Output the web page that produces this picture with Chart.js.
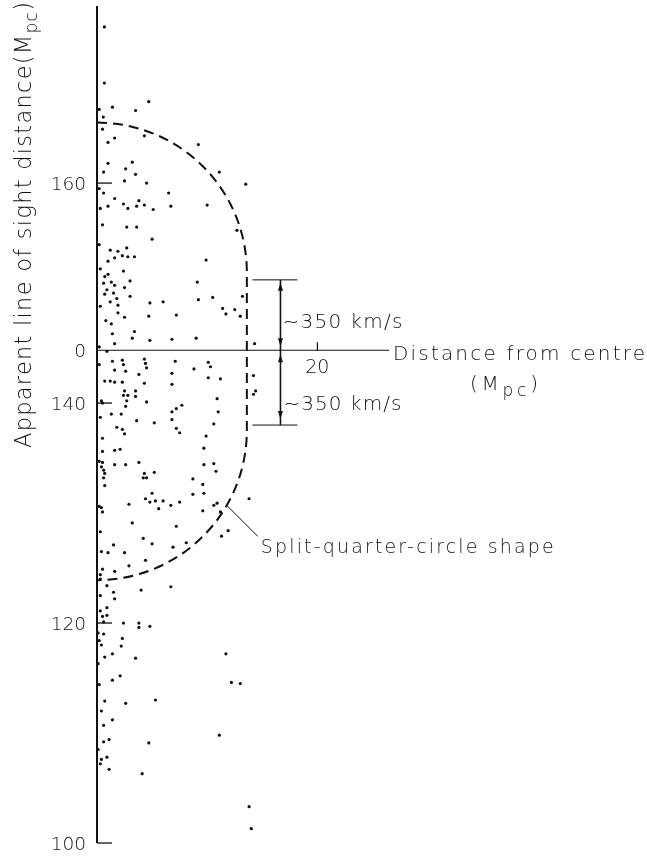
<!DOCTYPE html>
<html>
<head>
<meta charset="utf-8">
<script src="https://cdn.jsdelivr.net/npm/chart.js@4.4.1/dist/chart.umd.min.js"></script>
<style>
  html, body { margin: 0; padding: 0; background: #fff; }
  canvas { display: block; }
</style>
</head>
<body>
<canvas id="chart" width="647" height="856"></canvas>
<script>
// Galaxy positions: [distance from centre (Mpc), apparent line-of-sight distance (Mpc)]
const galaxies = [
  [0.67,174.2],[0.67,169.1],[1.4,166.9],[4.7,167.4],[3.5,166.6],[0.57,166.0],[0.2,166.7],[0.5,164.9],
  [1.6,164.1],[1.0,163.7],[4.3,164.3],[9.2,163.5],[1.0,161.8],[3.2,161.9],[2.6,161.3],[0.6,161.0],
  [3.5,160.8],[2.5,160.2],[4.5,160.0],[11.1,161.0],[13.5,159.9],[6.5,159.1],[0.2,159.5],
  [0.6,159.1],[1.6,158.6],[1.0,157.9],[2.4,158.1],[2.8,157.7],[3.6,157.9],[3.8,158.4],[4.3,158.0],
  [5.1,157.6],[6.7,157.9],[10.0,158.0],[0.3,157.7],[0.5,156.2],[2.7,156.0],[3.6,156.0],[5.0,154.9],
  [12.7,155.7],[0.2,154.4],[1.2,153.9],[1.9,153.8],[1.6,153.2],[1.0,152.9],[2.7,154.1],[2.3,153.4],
  [2.8,153.3],[3.4,153.3],[9.9,153.0],[0.3,152.2],[2.4,152.0],[0.7,151.5],[1.0,151.7],[0.6,150.9],
  [1.3,151.0],[1.6,150.7],[3.0,151.1],[2.5,150.5],[3.0,149.7],[9.1,151.0],[0.9,150.3],[0.7,149.9],
  [1.5,150.0],[1.8,149.5],[1.2,149.2],[4.8,149.1],[6.0,149.2],[9.2,149.4],[10.5,149.6],[13.2,149.7],
  [1.9,148.9],[0.3,148.8],[11.4,148.6],[11.7,148.1],[12.5,148.5],[13.0,147.9],[1.9,148.2],[2.5,147.8],
  [4.7,147.9],[7.2,148.0],[0.8,147.5],[1.3,147.2],[3.4,146.5],[1.4,146.3],[3.2,145.9],[4.8,145.7],
  [6.8,145.8],[9.0,145.9],[1.6,145.4],[14.3,145.4],[0.2,145.1],
  [0.9,144.7],[1.4,143.8],[2.3,143.9],[2.4,143.5],[4.3,144.0],[4.4,143.6],[4.5,143.2],[7.1,143.8],
  [10.1,143.7],[10.3,143.3],[8.8,143.1],[0.2,143.5],[1.6,143.0],[2.6,142.9],[3.8,142.6],[6.8,142.7],
  [10.1,142.3],[11.2,142.2],[0.7,142.0],[1.2,142.0],[1.6,141.9],[2.3,141.9],[4.3,141.8],[6.8,141.7],
  [2.5,141.1],[3.5,141.1],[2.4,140.7],[2.8,140.7],[3.5,140.6],[2.7,140.2],[4.5,140.1],[10.9,140.4],
  [0.4,140.2],[0.5,140.0],[2.6,139.7],[7.7,139.8],[7.2,139.5],[6.8,139.2],[11.0,139.2],[1.3,139.0],
  [2.2,139.0],[0.3,138.7],[3.6,138.4],[5.2,138.2],[6.8,138.5],[10.6,138.1],[1.8,137.8],[2.3,137.6],
  [2.5,137.2],[7.2,137.7],[7.5,137.3],[9.9,137.0],[0.5,136.8],[9.7,135.9],[0.5,135.6],[1.6,135.7],
  [2.1,135.8],[0.2,134.7],[0.5,134.6],[0.4,134.2],[0.6,133.9],[0.7,133.6],[0.6,133.2],[0.7,132.5],
  [1.6,134.4],[2.6,134.4],[3.8,134.6],[9.7,134.4],[10.6,134.5],[10.8,133.8],[4.3,133.6],[4.5,133.2],
  [4.2,133.2],[5.2,133.7],[8.7,133.1],[9.6,132.6],[5.0,131.8],[8.7,131.7],[9.7,131.8],[4.4,131.3],
  [4.8,131.0],[5.3,131.1],[6.0,131.1],[7.5,131.0],[6.7,130.7],[5.6,130.4],[2.9,130.8],[0.2,130.6],
  [0.4,130.5],[0.5,130.1],[10.6,130.7],[10.9,130.9],[9.6,130.2],[11.2,130.1],[13.8,131.3],[3.2,129.1],
  [7.2,128.8],[14.2,142.5],[14.4,141.1],[14.2,140.8],
  [11.9,128.4],[11.3,127.9],[0.3,128.3],[0.4,126.5],[1.0,126.4],[1.5,127.1],[2.5,126.4],[4.2,127.7],
  [5.0,127.2],[6.9,126.9],[8.1,127.3],[4.4,125.7],[2.9,125.2],[1.6,124.7],[0.5,124.9],[0.3,124.4],
  [0.3,124.0],[0.9,123.4],[4.0,123.0],[6.7,123.3],[1.5,122.8],[1.6,122.2],[0.3,122.5],[0.9,121.4],
  [0.3,121.1],[0.9,120.7],[0.5,120.6],[0.6,120.1],[2.4,120.0],[3.8,120.0],[3.8,119.6],[4.8,119.7],
  [0.1,119.1],[0.6,119.0],[0.2,118.4],[2.3,118.6],[0.4,118.0],[2.2,117.9],[1.4,117.2],[0.7,116.9],
  [3.5,116.8],[11.7,117.2],[0.1,116.3],[2.1,115.2],[1.4,114.8],[0.2,114.4],[12.2,114.6],[13.0,114.5],
  [0.7,112.9],[2.6,112.7],[5.3,113.0],[0.4,112.0],[1.4,111.2],
  [0.6,110.7],[11.1,109.8],[0.6,109.2],[1.1,109.4],[4.7,109.1],[0.1,108.5],[0.4,107.6],[0.3,107.2],
  [0.9,107.8],[1.1,106.7],[4.1,106.3],[13.8,103.3],[14.0,101.3]
];

// Vertical axis ticks (the "0" tick marks the centre line where the distance axis sits)
const yTickValues = [100, 120, 140, 144.8, 160];
const yTickLabels = ['100', '120', '140', '0', '160'];
// Horizontal (distance from centre) axis
const xTickValues = [20];
const xTickLabels = ['20'];
const centreLine = 144.8;
const distanceAxisEnd = 26.5;

// Split quarter circles: centres on the vertical axis, common radius (Mpc)
const arcCentres = [151.9, 137.5];
const arcRadius = 13.6;

// Velocity-dispersion bar
const barX = 16.65;
const barEnds = [151.2, 138.0];
const barLabel = '~350 km/s';

const INK = '#111';
const FONT = '"DejaVu Sans", "Liberation Sans", sans-serif';
const WEIGHT = '300';

// Draw a sequence of text runs, spreading the letters so the whole spans `width`.
function drawRuns(ctx, runs, x, y, width) {
  const hasLS = 'letterSpacing' in ctx;
  let natural = 0, chars = 0;
  runs.forEach(r => {
    ctx.font = `${WEIGHT} ${r.size}px ${FONT}`;
    if (hasLS) ctx.letterSpacing = '0px';
    r.w = ctx.measureText(r.t).width;
    natural += r.w; chars += [...r.t].length;
  });
  const target = width || natural;
  let sp = chars > 1 ? (target - natural) / (chars - 1) : 0;
  let scaleX = 1;
  if (!hasLS) { scaleX = target / natural; sp = 0; }
  ctx.save();
  ctx.translate(x, y);
  ctx.scale(scaleX, 1);
  ctx.textAlign = 'left';
  ctx.textBaseline = 'alphabetic';
  let cx = 0;
  runs.forEach(r => {
    ctx.font = `${WEIGHT} ${r.size}px ${FONT}`;
    if (hasLS) ctx.letterSpacing = sp + 'px';
    ctx.fillText(r.t, cx, r.dy || 0);
    cx += r.w + sp * [...r.t].length;
  });
  ctx.restore();
}

function textWidth(ctx, t, size) {
  ctx.save();
  ctx.font = `${WEIGHT} ${size}px ${FONT}`;
  if ('letterSpacing' in ctx) ctx.letterSpacing = '0px';
  const w = ctx.measureText(t).width;
  ctx.restore();
  return w;
}

function seg(ctx, x1, y1, x2, y2) {
  ctx.beginPath(); ctx.moveTo(x1, y1); ctx.lineTo(x2, y2); ctx.stroke();
}

function arrowHead(ctx, x, tip, up) {
  const b = up ? tip + 8 : tip - 8;
  ctx.beginPath();
  ctx.moveTo(x, tip); ctx.lineTo(x - 2.5, b); ctx.lineTo(x + 2.5, b); ctx.closePath();
  ctx.fill();
}

const figureOverlay = {
  id: 'figureOverlay',
  beforeDraw(chart) {
    const c = chart.ctx;
    c.save(); c.fillStyle = '#fff'; c.fillRect(0, 0, chart.width, chart.height); c.restore();
  },
  afterDatasetsDraw(chart) {
    const ctx = chart.ctx;
    const xs = chart.scales.x, ys = chart.scales.y;
    const px = v => xs.getPixelForValue(v);
    const py = v => ys.getPixelForValue(v);
    ctx.save();
    ctx.strokeStyle = INK; ctx.fillStyle = INK; ctx.lineCap = 'butt';

    // vertical axis
    ctx.lineWidth = 2;
    seg(ctx, px(0), py(ys.max), px(0), py(ys.min));

    // inner tick marks and labels
    ctx.lineWidth = 1.3;
    yTickValues.forEach((v, i) => {
      if (v !== centreLine) seg(ctx, px(0), py(v), px(0) + 15, py(v));
      const w = textWidth(ctx, yTickLabels[i], 18.5);
      drawRuns(ctx, [{ t: yTickLabels[i], size: 18.5 }], px(0) - 11 - w, py(v) + 6.5);
    });

    // distance-from-centre axis
    ctx.lineWidth = 1.2;
    seg(ctx, px(0), py(centreLine), px(distanceAxisEnd), py(centreLine));
    xTickValues.forEach((v, i) => {
      seg(ctx, px(v), py(centreLine), px(v), py(centreLine) - 8);
      const w = textWidth(ctx, xTickLabels[i], 19);
      drawRuns(ctx, [{ t: xTickLabels[i], size: 19 }], px(v) - w / 2, py(centreLine) + 23);
    });

    // split-quarter-circle outline
    const rx = px(arcRadius) - px(0);
    const ry = py(0) - py(arcRadius);
    ctx.lineWidth = 2;
    ctx.setLineDash([10, 6]);
    ctx.beginPath();
    ctx.ellipse(px(0), py(arcCentres[0]), rx, ry, 0, -Math.PI / 2, 0);
    ctx.lineTo(px(0) + rx, py(arcCentres[1]));
    ctx.ellipse(px(0), py(arcCentres[1]), rx, ry, 0, 0, Math.PI / 2);
    ctx.stroke();
    ctx.setLineDash([]);

    // leader line to the shape label
    const ang = 30 * Math.PI / 180;
    const lx = px(0) + rx * Math.cos(ang), ly = py(arcCentres[1]) + ry * Math.sin(ang);
    ctx.lineWidth = 1;
    seg(ctx, lx, ly, lx + 31, ly + 31);
    drawRuns(ctx, [{ t: 'Split-quarter-circle shape', size: 19 }], lx + 34, ly + 48, 293);

    // velocity bar with caps and arrows
    const bx = px(barX);
    ctx.lineWidth = 1;
    seg(ctx, bx - 28, py(barEnds[0]), bx + 17, py(barEnds[0]));
    seg(ctx, bx - 28, py(barEnds[1]), bx + 17, py(barEnds[1]));
    ctx.lineWidth = 1.6;
    seg(ctx, bx, py(barEnds[0]), bx, py(barEnds[1]));
    arrowHead(ctx, bx, py(barEnds[0]) + 3, true);
    arrowHead(ctx, bx, py(centreLine) - 4, false);
    arrowHead(ctx, bx, py(centreLine) + 4, true);
    arrowHead(ctx, bx, py(barEnds[1]) - 6, false);
    drawRuns(ctx, [{ t: barLabel, size: 20 }], bx + 2, py(centreLine) - 22, 120);
    drawRuns(ctx, [{ t: barLabel, size: 20 }], bx + 3, py(centreLine) + 60, 118);

    // horizontal axis title
    const ax = px(distanceAxisEnd) + 4;
    drawRuns(ctx, [{ t: 'Distance from centre', size: 20 }], ax, py(centreLine) + 10, 252);
    drawRuns(ctx, [
      { t: '(M', size: 20 },
      { t: 'pc', size: 17, dy: 6 },
      { t: ')', size: 20 }
    ], ax + 77, py(centreLine) + 40, 68);

    // vertical axis title
    ctx.save();
    ctx.translate(31, 448);
    ctx.rotate(-Math.PI / 2);
    drawRuns(ctx, [
      { t: 'Apparent line of sight distance(M', size: 22.5 },
      { t: 'pc', size: 17, dy: 6 },
      { t: ')', size: 22.5 }
    ], 0, 0, 446);
    ctx.restore();

    ctx.restore();
  }
};

new Chart(document.getElementById('chart'), {
  type: 'scatter',
  data: {
    datasets: [{
      data: galaxies.map(([x, y]) => ({ x, y })),
      pointRadius: 1.6,
      pointHoverRadius: 1.6,
      pointBorderWidth: 0,
      pointBackgroundColor: INK,
      clip: false
    }]
  },
  options: {
    responsive: false,
    animation: false,
    devicePixelRatio: 1,
    layout: { padding: { left: 97, top: 6, right: 0, bottom: 13 } },
    scales: {
      x: { type: 'linear', min: 0, max: 49.77, display: false },
      y: { type: 'linear', min: 100, max: 176.1, display: false }
    },
    plugins: { legend: { display: false }, tooltip: { enabled: false } },
    events: []
  },
  plugins: [figureOverlay]
});
</script>
</body>
</html>
